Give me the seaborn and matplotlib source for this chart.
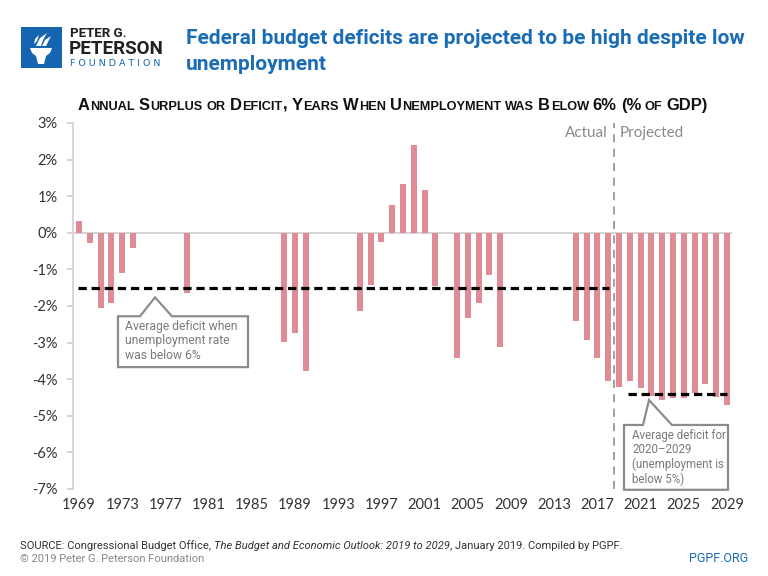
import matplotlib
matplotlib.use("Agg")
import matplotlib.pyplot as plt
import matplotlib.transforms as mtransforms
from matplotlib.patches import Polygon, Rectangle
import seaborn as sns
import pandas as pd

# ---------------- data ----------------
years_actual = [1969, 1970, 1971, 1972, 1973, 1974, 1979, 1988, 1989, 1990,
                1995, 1996, 1997, 1998, 1999, 2000, 2001, 2002, 2004, 2005,
                2006, 2007, 2008, 2015, 2016, 2017, 2018]
values_actual = [0.33, -0.27, -2.06, -1.91, -1.09, -0.41, -1.64, -2.98, -2.75, -3.78,
                 -2.14, -1.43, -0.26, 0.77, 1.32, 2.41, 1.18, -1.45, -3.41, -2.34,
                 -1.91, -1.16, -3.11, -2.41, -2.93, -3.43, -4.06]
years_projected = [2019, 2020, 2021, 2022, 2023, 2024, 2025, 2026, 2027, 2028, 2029]
values_projected = [-4.21, -4.06, -4.23, -4.45, -4.57, -4.50, -4.50, -4.39, -4.13, -4.48, -4.70]

avg_low_unemp = -1.52      # average deficit when unemployment < 6%
avg_projected = -4.41      # average deficit 2020-2029
tick_years = list(range(1969, 2030, 4))
y_ticks = list(range(-7, 4))

title = "Federal budget deficits are projected to be high despite low\nunemployment"
subtitle = "Annual Surplus or Deficit, Years When Unemployment was Below 6% (% of GDP)"
note1 = "Average deficit when\nunemployment rate\nwas below 6%"
note2 = "Average deficit for\n2020\u20132029\n(unemployment is\nbelow 5%)"

df = pd.DataFrame({"year": years_actual + years_projected,
                   "value": values_actual + values_projected})

# ---------------- style ----------------
sns.set_theme(style="white")
plt.rcParams["font.family"] = ["Lato", "DejaVu Sans"]
NARROW = ["Roboto", "DejaVu Sans"]

BAR = "#e08c96"
GRAY_TXT = "#333333"
BLUE = "#1a6cb5"

W, H = 768, 576
fig = plt.figure(figsize=(W / 100, H / 100), dpi=100)
fig.patch.set_facecolor("white")

ax_l, ax_r, ax_t, ax_b = 73, 735, 123, 489
ax = fig.add_axes([ax_l / W, 1 - ax_b / H, (ax_r - ax_l) / W, (ax_b - ax_t) / H])

sns.barplot(data=df, x="year", y="value", native_scale=True, width=0.56,
            color=BAR, saturation=1, errorbar=None, ax=ax, zorder=2, linewidth=0)

x0 = 1969 + (ax_l - 79) / 10.8
x1 = 1969 + (ax_r - 79) / 10.8
ax.set_xlim(x0, x1)
ax.set_ylim(-7, 3)
ax.set_xlabel("")
ax.set_ylabel("")

ax.set_yticks(y_ticks)
ax.set_yticklabels([f"{v}%" for v in y_ticks], color=GRAY_TXT, fontsize=10.5)
ax.set_xticks(tick_years)
ax.set_xticklabels([str(y) for y in tick_years], color=GRAY_TXT, fontsize=10.5)
ax.tick_params(axis="y", which="both", left=True, length=4, width=1.2,
               color="#cccccc", pad=7)
ax.tick_params(axis="x", bottom=False, length=0, pad=6.5)

for s in ["top", "right", "bottom"]:
    ax.spines[s].set_visible(False)
ax.spines["left"].set_color("#d4d4d4")
ax.spines["left"].set_linewidth(1.3)
ax.grid(False)

# zero line
ax.plot([x0, 2029.45], [0, 0], color="#c8c8c8", lw=1.1, zorder=1, solid_capstyle="butt")

# average dashed lines
ax.plot([1968.9, 2018.1], [avg_low_unemp, avg_low_unemp], color="black", lw=2.3,
        dashes=(2.6, 1.5), zorder=3, solid_capstyle="butt")
ax.plot([2019.8, 2029.0], [avg_projected, avg_projected], color="black", lw=2.3,
        dashes=(2.6, 1.5), zorder=3)

# actual / projected divider
ax.axvline(2018.5, color="#999999", lw=1.3, dashes=(4.5, 3.5), zorder=4, clip_on=False)
ax.text(2017.95, 2.72, "Actual", ha="right", va="center", color="#8a8a8a", fontsize=11)
ax.text(2019.1, 2.72, "Projected", ha="left", va="center", color="#8a8a8a", fontsize=11)


# ---------------- callouts ----------------
def px2data(px, py):
    return (1969 + (px - 79) / 10.8, (233.3 - py) / 36.7)


def callout(l, r, t, b, apex, bl, br, text, tx, ty, fs):
    pts = [(l, t), (bl, t), apex, (br, t), (r, t), (r, b), (l, b)]
    poly = Polygon([px2data(*p) for p in pts], closed=True, facecolor="white",
                   edgecolor="#8c8c8c", lw=1.6, zorder=5, clip_on=False,
                   joinstyle="miter")
    ax.add_patch(poly)
    dx, dy = px2data(tx, ty)
    ax.text(dx, dy, text, ha="left", va="top", color="#7a7a7a", fontsize=fs,
            family=NARROW, linespacing=1.12, zorder=6)


callout(118, 248, 317, 368, (155, 298), 140, 172, note1, 125, 321, 8.7)
callout(624, 728, 426, 491, (649, 401), 643, 672, note2, 632, 430, 8.3)

# ---------------- header ----------------
tr = mtransforms.IdentityTransform()


def ptext(x, y, s, **kw):
    return fig.text(x, H - y, s, transform=tr, **kw)


# logo
fig.patches.append(Rectangle((21, H - 68), 41, 41, transform=tr, facecolor="#1565b0",
                             edgecolor="none", figure=fig))
cup = [(30, 48), (52, 48), (50, 53), (46, 56), (44, 64), (38, 64), (36, 56), (32, 53)]
fig.patches.append(Polygon([(x, H - y) for x, y in cup], closed=True, transform=tr,
                           facecolor="white", edgecolor="none", figure=fig))
for flame in ([(36, 46), (40, 38), (47, 33), (43, 40), (41, 46)],
              [(42, 46), (45, 40), (51, 36), (48, 42), (46, 46)],
              [(34, 44), (35, 39), (39, 35), (37, 41)]):
    fig.patches.append(Polygon([(x, H - y) for x, y in flame], closed=True, transform=tr,
                               facecolor="white", edgecolor="none", figure=fig))

ptext(70, 37, "PETER G.", fontsize=9.5, fontweight="bold", color="#231f20",
      family=NARROW, va="baseline")
ptext(69, 54, "PETERSON", fontsize=13.5, fontweight="bold", color="#231f20",
      family=NARROW, va="baseline")
ptext(70, 66, "F O U N D A T I O N", fontsize=6.8, color="#1565b0", va="baseline",
      family=["DejaVu Sans"])

ptext(186, 44, title.split("\n")[0], fontsize=15, fontweight="bold", color=BLUE,
      family=NARROW, va="baseline")
ptext(186, 70, title.split("\n")[1], fontsize=15, fontweight="bold", color=BLUE,
      family=NARROW, va="baseline")

# small-caps subtitle
renderer = fig.canvas.get_renderer()


def small_caps(x, y, text, big, small, target_w=None, **kw):
    def draw(scale):
        cur = x
        made = []
        probe1 = fig.text(0, 0, "AA", fontsize=big * scale, transform=tr, **kw)
        probe2 = fig.text(0, 0, "A A", fontsize=big * scale, transform=tr, **kw)
        sp = probe2.get_window_extent(renderer).width - probe1.get_window_extent(renderer).width
        probe1.remove(); probe2.remove()
        for word in text.split(" "):
            runs = []
            for ch in word:
                isl = ch.islower()
                if runs and runs[-1][1] == isl:
                    runs[-1][0] += ch
                else:
                    runs.append([ch, isl])
            for run, isl in runs:
                t = fig.text(cur, H - y, run.upper(), fontsize=(small if isl else big) * scale,
                             transform=tr, va="baseline", **kw)
                cur += t.get_window_extent(renderer).width + 0.6 * scale
                made.append(t)
            cur += sp
        return cur - sp - x, made

    w, made = draw(1.0)
    if target_w:
        for t in made:
            t.remove()
        draw(target_w / w)


small_caps(78, 110, subtitle, 12.5, 9.6, target_w=632, fontweight="bold",
           color="#111111", family=["Liberation Sans", "DejaVu Sans"])

# ---------------- footer ----------------
fx = 20
parts = [("SOURCE: Congressional Budget Office,", "normal"),
         ("The Budget and Economic Outlook: 2019 to 2029", "italic"),
         (", January 2019. Compiled by PGPF.", "normal")]
cur = fx
for i, (s, st) in enumerate(parts):
    t = ptext(cur, 549, s, fontsize=8.0, color="#333333", style=st, family=NARROW,
              va="baseline")
    bb = t.get_window_extent(renderer)
    cur += bb.width + (3 if i == 0 else 0.5)
ptext(20, 562, "\u00a9 2019 Peter G. Peterson Foundation", fontsize=8.0, color="#888888",
      family=NARROW, va="baseline")
ptext(748, 562, "PGPF.ORG", fontsize=9, color="#1a6cb5", family=NARROW,
      va="baseline", ha="right")

fig.savefig("out.png", dpi=100, facecolor="white")
